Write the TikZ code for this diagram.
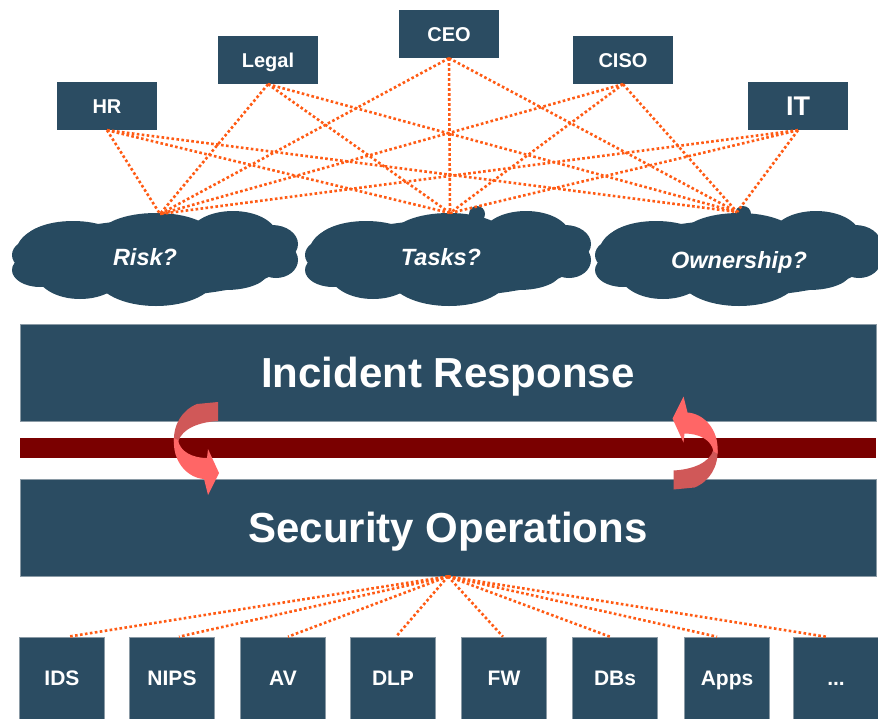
\documentclass[tikz,border=0pt]{standalone}
\usepackage{fontspec}
\setmainfont{Liberation Sans}
\definecolor{boxblue}{HTML}{2B4C62}
\definecolor{cloudblue}{HTML}{274A60}
\definecolor{linkorange}{HTML}{FF5B14}
\definecolor{barred}{HTML}{7A0000}
\definecolor{arrowdark}{HTML}{D05858}
\definecolor{arrowlight}{HTML}{FF6666}
\definecolor{edgegrey}{HTML}{8A9AA5}
\newcommand\cloudbody{%
  \fill[cloudblue] (0,0) ellipse [x radius=130, y radius=38];
  \fill[cloudblue] (-100,-5) ellipse [x radius=40, y radius=28];
  \fill[cloudblue] (-83,-15) ellipse [x radius=50, y radius=22];
  \fill[cloudblue] (0,-22) ellipse [x radius=57, y radius=23];
  \fill[cloudblue] (77,-22) ellipse [x radius=44, y radius=25];
  \fill[cloudblue] (116,-14) ellipse [x radius=26, y radius=19];
  \fill[cloudblue] (120,2) ellipse [x radius=22, y radius=18];
  \fill[cloudblue] (100,6) ellipse [x radius=32, y radius=14];
  \fill[cloudblue] (70,14) ellipse [x radius=42, y radius=18];
  \fill[cloudblue] (0,18) ellipse [x radius=60, y radius=30];
  \fill[cloudblue] (-76,14) ellipse [x radius=44, y radius=27];
  \fill[cloudblue] (-116,12) ellipse [x radius=28, y radius=17];
  \fill[cloudblue] (-122,-3) ellipse [x radius=22, y radius=16];
}
\newcommand\ribbonarrow{%
  \fill[arrowdark] (0.5,-44.5) -- (21.5,-46.5) -- (21.5,-27.5)
    .. controls (3.5,-26.5) and (-14.5,-20.5) .. (-18.5,-6.5)
    -- (-22.5,-6.5)
    .. controls (-23.5,-23.5) and (-14.5,-38.5) .. (0.5,-44.5) -- cycle;
  \fill[arrowlight] (-22.5,-10.5)
    .. controls (-24.5,13.5) and (-8.5,29.5) .. (7.5,30.5)
    -- (11.5,46.5) -- (22.5,24.5) -- (11.5,0.5) -- (10.5,9.5)
    .. controls (-3.5,9.5) and (-16.5,3.5) .. (-18.5,-8.5) -- cycle;
}
\begin{document}
\begin{tikzpicture}[x=1pt,y=-1pt,
  topbox/.style={fill=boxblue, text=white, font=\fontsize{20}{24}\selectfont\bfseries,
    minimum width=100pt, minimum height=48pt, inner sep=0pt, text height=14.3pt, text depth=0pt},
  botbox/.style={fill=boxblue, draw=edgegrey, line width=0.6pt, text=white,
    font=\fontsize{21}{24}\selectfont\bfseries,
    minimum width=85pt, minimum height=82pt, inner sep=0pt, text height=15pt, text depth=0pt},
  bigbar/.style={fill=boxblue, draw=edgegrey, line width=0.8pt, text=white,
    font=\fontsize{42}{48}\selectfont\bfseries,
    minimum width=856pt, minimum height=97pt, inner sep=0pt, text height=30pt, text depth=0pt},
  link/.style={draw=linkorange, line width=2.6pt, dash pattern=on 2.6pt off 2.4pt},
  cloudtext/.style={text=white, font=\fontsize{23.5}{27}\selectfont\bfseries\itshape,
    inner sep=0pt, anchor=base}
]
\useasboundingbox (0,0) rectangle (878,718);
\fill[white] (0,0) rectangle (878,718);
\clip (0,0) rectangle (878,718);

% clouds
\begin{scope}[shift={(156,258)}]\cloudbody\end{scope}
\begin{scope}[shift={(449,258)}]\cloudbody
  \fill[cloudblue] (28,-44) circle [radius=8];\end{scope}
\begin{scope}[shift={(739,258)}]\cloudbody
  \fill[cloudblue] (4,-44) circle [radius=8];\end{scope}
\node[cloudtext] (risk) at (145,265) {Risk?};
\node[cloudtext] (tasks) at (441,265) {Tasks?};
\node[cloudtext] (own) at (739,268) {Ownership?};
\coordinate (riskc) at (160,214);
\coordinate (tasksc) at (450,213);
\coordinate (ownc) at (737,212);

% top boxes
\node[topbox] (hr) at (107,106) {HR};
\node[topbox] (legal) at (268,60) {Legal};
\node[topbox] (ceo) at (449,34) {CEO};
\node[topbox] (ciso) at (623,60) {CISO};
\node[topbox, font=\fontsize{27}{30}\selectfont\bfseries, text height=19.3pt] (it) at (798,106) {IT};

\foreach \b in {hr,legal,ceo,ciso,it}
  \foreach \c in {riskc,tasksc,ownc}
    \draw[link] (\b.south) -- (\c);

% bars
\node[bigbar] (ir) at (448,372.5) {Incident Response};
\node[fill=barred, minimum width=856pt, minimum height=20pt, inner sep=0pt] (redbar) at (448,448) {};
\node[bigbar] (so) at (448,527.5) {Security Operations};

% ribbon arrows
\begin{scope}[shift={(196.5,448.5)}]\ribbonarrow\end{scope}
\begin{scope}[shift={(695,443)},rotate=180]\ribbonarrow\end{scope}

% bottom boxes
\node[botbox] (ids) at (62,678) {IDS};
\node[botbox] (nips) at (172,678) {NIPS};
\node[botbox] (av) at (283,678) {AV};
\node[botbox] (dlp) at (393,678) {DLP};
\node[botbox] (fw) at (504,678) {FW};
\node[botbox] (dbs) at (615,678) {DBs};
\node[botbox] (apps) at (727,678) {Apps};
\node[botbox] (more) at (836,678) {...};

\foreach \b/\dx in {ids/6,nips/7,av/5,dlp/3,fw/-1,dbs/-5,apps/-10,more/-10}
  \draw[link] (so.south) -- ([xshift=\dx pt]\b.north);
\end{tikzpicture}
\end{document}
